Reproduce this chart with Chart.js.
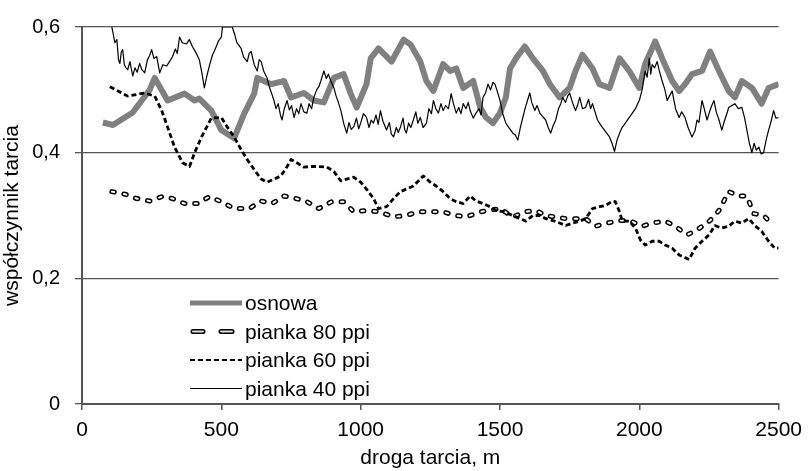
<!DOCTYPE html>
<html>
<head>
<meta charset="utf-8">
<script src="https://cdn.jsdelivr.net/npm/chart.js@4.4.0/dist/chart.umd.min.js"></script>
<style>
  html, body { margin: 0; padding: 0; background: #fff; }
</style>
</head>
<body>
<canvas id="chart" width="810" height="471"></canvas>
<script>
// droga tarcia [m] and współczynnik tarcia

const osnowaX = [75, 111, 182, 243, 261, 307, 368, 404, 421, 464, 500, 546, 582, 618, 629, 679, 725, 750, 796, 832, 868, 904, 939, 964, 986, 1021, 1036, 1064, 1111, 1154, 1179, 1214, 1236, 1261, 1296, 1321, 1343, 1368, 1404, 1429, 1450, 1475, 1500, 1521, 1536, 1557, 1589, 1618, 1654, 1679, 1714, 1750, 1771, 1796, 1832, 1857, 1893, 1929, 1964, 2000, 2021, 2057, 2082, 2118, 2143, 2164, 2189, 2225, 2254, 2286, 2321, 2343, 2368, 2404, 2439, 2464, 2500];
const osnowaY = [0.448, 0.444, 0.464, 0.500, 0.519, 0.483, 0.494, 0.483, 0.486, 0.467, 0.436, 0.423, 0.462, 0.494, 0.519, 0.509, 0.514, 0.488, 0.495, 0.483, 0.480, 0.519, 0.525, 0.494, 0.472, 0.509, 0.550, 0.566, 0.545, 0.580, 0.572, 0.545, 0.514, 0.498, 0.541, 0.530, 0.534, 0.503, 0.514, 0.472, 0.456, 0.447, 0.463, 0.488, 0.534, 0.550, 0.569, 0.550, 0.530, 0.509, 0.488, 0.503, 0.530, 0.556, 0.534, 0.509, 0.503, 0.550, 0.530, 0.503, 0.541, 0.577, 0.550, 0.514, 0.498, 0.509, 0.525, 0.530, 0.561, 0.530, 0.498, 0.488, 0.514, 0.503, 0.478, 0.503, 0.509];

const p80X = [107, 154, 196, 243, 286, 325, 368, 414, 457, 500, 546, 600, 643, 682, 725, 768, 807, 850, 896, 939, 975, 1021, 1064, 1118, 1164, 1207, 1250, 1296, 1339, 1379, 1432, 1500, 1546, 1593, 1629, 1664, 1736, 1771, 1807, 1843, 1886, 1932, 1964, 2011, 2046, 2093, 2129, 2171, 2207, 2254, 2286, 2321, 2357, 2386, 2411, 2446, 2482];
const p80Y = [0.338, 0.334, 0.327, 0.323, 0.330, 0.327, 0.319, 0.319, 0.330, 0.322, 0.311, 0.311, 0.323, 0.319, 0.331, 0.327, 0.322, 0.311, 0.322, 0.322, 0.306, 0.308, 0.306, 0.298, 0.300, 0.306, 0.306, 0.306, 0.300, 0.298, 0.306, 0.311, 0.298, 0.306, 0.308, 0.300, 0.295, 0.295, 0.295, 0.283, 0.288, 0.292, 0.292, 0.283, 0.288, 0.291, 0.283, 0.269, 0.277, 0.292, 0.308, 0.338, 0.331, 0.331, 0.303, 0.300, 0.284];

const p60X = [100, 164, 225, 261, 286, 307, 332, 361, 386, 404, 429, 464, 500, 521, 546, 571, 593, 618, 643, 664, 689, 714, 736, 750, 771, 796, 821, 843, 879, 904, 929, 950, 975, 1000, 1021, 1046, 1064, 1093, 1118, 1143, 1164, 1189, 1214, 1225, 1250, 1271, 1296, 1321, 1343, 1368, 1393, 1414, 1439, 1464, 1486, 1511, 1546, 1571, 1593, 1618, 1643, 1664, 1689, 1714, 1736, 1761, 1786, 1807, 1832, 1857, 1879, 1904, 1914, 1929, 1939, 1964, 1986, 2004, 2021, 2046, 2071, 2093, 2118, 2143, 2164, 2179, 2200, 2225, 2250, 2271, 2296, 2321, 2343, 2368, 2393, 2414, 2439, 2464, 2486, 2500];
const p60Y = [0.505, 0.490, 0.495, 0.490, 0.467, 0.441, 0.409, 0.384, 0.378, 0.400, 0.425, 0.455, 0.456, 0.441, 0.425, 0.405, 0.389, 0.373, 0.358, 0.353, 0.358, 0.363, 0.378, 0.389, 0.384, 0.377, 0.378, 0.378, 0.377, 0.370, 0.355, 0.358, 0.361, 0.353, 0.342, 0.327, 0.311, 0.314, 0.327, 0.338, 0.342, 0.347, 0.358, 0.363, 0.353, 0.347, 0.338, 0.327, 0.322, 0.319, 0.331, 0.323, 0.319, 0.314, 0.308, 0.306, 0.300, 0.295, 0.291, 0.300, 0.300, 0.295, 0.292, 0.288, 0.284, 0.288, 0.291, 0.295, 0.311, 0.314, 0.316, 0.323, 0.322, 0.306, 0.291, 0.291, 0.280, 0.261, 0.253, 0.259, 0.259, 0.253, 0.248, 0.237, 0.233, 0.230, 0.248, 0.259, 0.269, 0.284, 0.280, 0.283, 0.291, 0.288, 0.295, 0.284, 0.275, 0.259, 0.248, 0.248];

const p40X = [107, 118, 125, 131, 136, 141, 146, 152, 158, 164, 172, 182, 190, 198, 207, 215, 225, 235, 243, 250, 258, 268, 279, 290, 304, 314, 325, 335, 342, 350, 360, 375, 385, 396, 408, 421, 431, 439, 447, 457, 468, 482, 490, 500, 504, 520, 539, 548, 556, 571, 580, 593, 600, 607, 618, 629, 636, 643, 652, 664, 672, 680, 689, 696, 704, 712, 718, 726, 736, 744, 752, 761, 770, 778, 786, 796, 807, 815, 824, 832, 842, 850, 857, 868, 877, 884, 893, 904, 912, 920, 929, 940, 950, 958, 966, 975, 985, 993, 1000, 1010, 1021, 1030, 1038, 1046, 1055, 1063, 1071, 1080, 1093, 1103, 1110, 1118, 1128, 1135, 1143, 1152, 1158, 1164, 1172, 1180, 1189, 1198, 1205, 1214, 1224, 1236, 1245, 1254, 1261, 1270, 1279, 1288, 1296, 1305, 1315, 1325, 1333, 1343, 1352, 1360, 1368, 1378, 1386, 1393, 1404, 1414, 1425, 1432, 1439, 1448, 1457, 1466, 1475, 1482, 1490, 1500, 1510, 1521, 1532, 1546, 1555, 1564, 1573, 1582, 1590, 1600, 1607, 1614, 1625, 1633, 1643, 1652, 1664, 1673, 1682, 1690, 1700, 1710, 1718, 1725, 1735, 1743, 1750, 1760, 1771, 1778, 1786, 1796, 1807, 1818, 1825, 1832, 1841, 1850, 1860, 1868, 1875, 1885, 1893, 1902, 1911, 1920, 1929, 1938, 1950, 1962, 1975, 1986, 1994, 2000, 2010, 2021, 2028, 2036, 2041, 2046, 2055, 2064, 2072, 2082, 2092, 2100, 2108, 2118, 2130, 2143, 2152, 2164, 2175, 2189, 2200, 2207, 2214, 2225, 2233, 2243, 2252, 2260, 2268, 2276, 2286, 2296, 2305, 2314, 2321, 2332, 2343, 2355, 2368, 2378, 2386, 2395, 2404, 2412, 2420, 2429, 2437, 2446, 2455, 2464, 2473, 2482, 2490, 2500];
const p40Y = [0.600, 0.575, 0.580, 0.548, 0.542, 0.560, 0.564, 0.540, 0.535, 0.532, 0.545, 0.522, 0.535, 0.528, 0.542, 0.532, 0.527, 0.548, 0.555, 0.564, 0.550, 0.553, 0.527, 0.540, 0.538, 0.545, 0.553, 0.565, 0.558, 0.584, 0.575, 0.573, 0.580, 0.569, 0.560, 0.548, 0.525, 0.503, 0.520, 0.538, 0.555, 0.569, 0.578, 0.584, 0.600, 0.600, 0.600, 0.588, 0.575, 0.566, 0.552, 0.545, 0.558, 0.561, 0.540, 0.530, 0.548, 0.545, 0.530, 0.519, 0.505, 0.495, 0.483, 0.470, 0.478, 0.460, 0.452, 0.470, 0.483, 0.468, 0.475, 0.456, 0.470, 0.462, 0.478, 0.465, 0.463, 0.478, 0.470, 0.488, 0.500, 0.505, 0.514, 0.530, 0.518, 0.525, 0.514, 0.503, 0.490, 0.480, 0.467, 0.445, 0.431, 0.448, 0.437, 0.441, 0.455, 0.438, 0.447, 0.462, 0.456, 0.440, 0.452, 0.447, 0.460, 0.445, 0.467, 0.450, 0.436, 0.448, 0.430, 0.425, 0.440, 0.432, 0.441, 0.455, 0.437, 0.431, 0.447, 0.440, 0.452, 0.465, 0.447, 0.456, 0.440, 0.447, 0.470, 0.462, 0.483, 0.470, 0.463, 0.478, 0.467, 0.475, 0.470, 0.494, 0.478, 0.463, 0.472, 0.462, 0.478, 0.470, 0.480, 0.467, 0.455, 0.463, 0.470, 0.460, 0.488, 0.495, 0.509, 0.500, 0.512, 0.509, 0.498, 0.483, 0.462, 0.447, 0.440, 0.431, 0.428, 0.420, 0.440, 0.456, 0.470, 0.485, 0.495, 0.480, 0.467, 0.475, 0.463, 0.458, 0.452, 0.440, 0.431, 0.442, 0.452, 0.470, 0.478, 0.488, 0.480, 0.490, 0.495, 0.480, 0.467, 0.475, 0.488, 0.470, 0.472, 0.485, 0.470, 0.478, 0.465, 0.452, 0.445, 0.440, 0.436, 0.430, 0.425, 0.415, 0.402, 0.420, 0.431, 0.440, 0.447, 0.455, 0.463, 0.470, 0.478, 0.483, 0.500, 0.530, 0.520, 0.550, 0.525, 0.540, 0.535, 0.545, 0.530, 0.514, 0.500, 0.483, 0.490, 0.498, 0.470, 0.456, 0.465, 0.456, 0.440, 0.425, 0.435, 0.452, 0.448, 0.483, 0.470, 0.452, 0.465, 0.475, 0.483, 0.465, 0.452, 0.436, 0.450, 0.462, 0.472, 0.475, 0.478, 0.470, 0.472, 0.455, 0.436, 0.415, 0.400, 0.415, 0.404, 0.409, 0.398, 0.400, 0.420, 0.436, 0.450, 0.467, 0.455, 0.456];

const seriesNames = ['osnowa', 'pianka 80 ppi', 'pianka 60 ppi', 'pianka 40 ppi'];
const xTickLabels = ['0', '500', '1000', '1500', '2000', '2500'];
const yTickLabels = ['0', '0,2', '0,4', '0,6'];

const FONT = '"Liberation Sans", Arial, sans-serif';

function pts(xs, ys) {
  return xs.map((x, i) => ({ x: x, y: ys[i] }));
}

// legend drawn by hand inside the plot: line sample + name
const lineLegend = {
  id: 'lineLegend',
  afterDraw(chart) {
    const ctx = chart.ctx;
    ctx.save();
    ctx.font = '21px ' + FONT;
    ctx.fillStyle = '#000';
    ctx.textBaseline = 'alphabetic';
    seriesNames.forEach((name, i) => {
      const ty = 310 + i * 28.5;
      const ly = ty - 7;
      ctx.beginPath();
      if (i === 0) {
        ctx.strokeStyle = '#808080';
        ctx.lineWidth = 5;
        ctx.setLineDash([]);
        ctx.moveTo(190, ly); ctx.lineTo(242, ly);
        ctx.stroke();
      } else if (i === 1) {
        ctx.setLineDash([]);
        ctx.lineCap = 'round';
        [[193, 203], [221, 232]].forEach(seg => {
          ctx.beginPath();
          ctx.strokeStyle = '#000';
          ctx.lineWidth = 5;
          ctx.moveTo(seg[0], ly); ctx.lineTo(seg[1], ly);
          ctx.stroke();
          ctx.beginPath();
          ctx.strokeStyle = '#ddd';
          ctx.lineWidth = 2;
          ctx.moveTo(seg[0], ly); ctx.lineTo(seg[1], ly);
          ctx.stroke();
        });
        ctx.lineCap = 'butt';
      } else if (i === 2) {
        ctx.strokeStyle = '#000';
        ctx.lineWidth = 2;
        ctx.setLineDash([5, 3]);
        ctx.moveTo(190, ly); ctx.lineTo(242, ly);
        ctx.stroke();
      } else {
        ctx.strokeStyle = '#000';
        ctx.lineWidth = 1;
        ctx.setLineDash([]);
        ctx.moveTo(190, ly); ctx.lineTo(242, ly);
        ctx.stroke();
      }
      ctx.setLineDash([]);
      ctx.fillText(name, 245, ty);
    });
    ctx.restore();
  }
};

const ctx = document.getElementById('chart').getContext('2d');
new Chart(ctx, {
  type: 'line',
  data: {
    datasets: [
      // first dataset is painted last (on top)
      { label: seriesNames[3], data: pts(p40X, p40Y), borderColor: '#000', borderWidth: 1.2 },
      { label: seriesNames[2], data: pts(p60X, p60Y), borderColor: '#000', borderWidth: 2.8, borderDash: [5, 3] },
      { label: seriesNames[1] + ' fill', data: pts(p80X, p80Y), borderColor: '#fff', borderWidth: 2, borderDash: [2.5, 9.8], borderCapStyle: 'round' },
      { label: seriesNames[1], data: pts(p80X, p80Y), borderColor: '#000', borderWidth: 5, borderDash: [2.5, 9.8], borderCapStyle: 'round' },
      { label: seriesNames[0], data: pts(osnowaX, osnowaY), borderColor: '#808080', borderWidth: 6 }
    ]
  },
  options: {
    responsive: false,
    animation: false,
    parsing: false,
    elements: { point: { radius: 0 }, line: { tension: 0, borderJoinStyle: 'round' } },
    layout: { padding: { top: 20, right: 28, bottom: 0, left: 0 } },
    plugins: { legend: { display: false }, tooltip: { enabled: false } },
    scales: {
      x: {
        type: 'linear',
        min: 0, max: 2500,
        afterFit: s => { s.height = 67; },
        ticks: {
          stepSize: 500,
          padding: 8,
          color: '#000',
          font: { family: FONT, size: 21 },
          maxRotation: 0,
          callback: (v, i) => xTickLabels[i]
        },
        grid: { drawOnChartArea: false, drawTicks: true, tickLength: 6, color: '#555', lineWidth: 1.5 },
        border: { color: '#555', width: 2 },
        title: { display: true, text: 'droga tarcia, m', color: '#000', font: { family: FONT, size: 21 }, padding: { top: 0, bottom: 0 } }
      },
      y: {
        min: 0, max: 0.6,
        afterFit: s => { s.width = 82; },
        ticks: {
          stepSize: 0.2,
          padding: 15,
          color: '#000',
          font: { family: FONT, size: 20 },
          callback: (v, i) => yTickLabels[i]
        },
        grid: { color: '#555', lineWidth: 1.3, tickLength: 7 },
        border: { color: '#555', width: 2 },
        title: { display: true, text: 'współczynnik tarcia', color: '#000', font: { family: FONT, size: 21 }, padding: { top: 0, bottom: 0 } }
      }
    }
  },
  plugins: [lineLegend]
});
</script>
</body>
</html>
